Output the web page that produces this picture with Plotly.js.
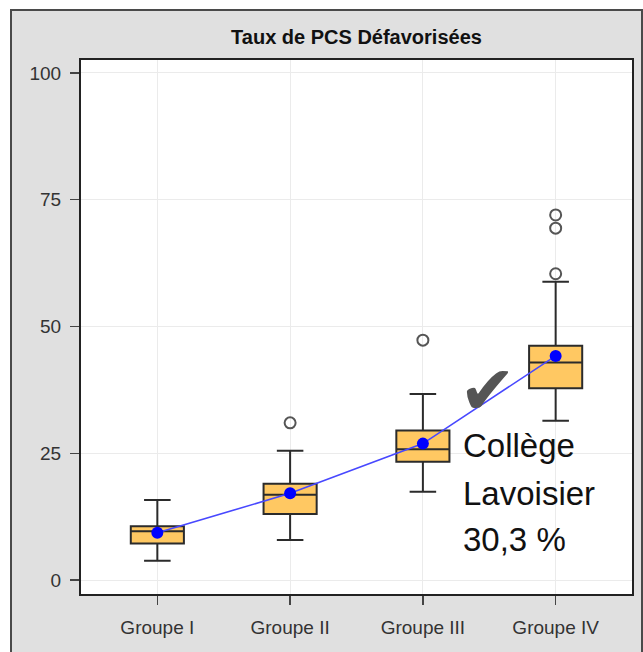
<!DOCTYPE html>
<html>
<head>
<meta charset="utf-8">
<script src="https://cdn.plot.ly/plotly-3.0.1.min.js"></script>
<style>
  html, body { margin: 0; padding: 0; background: #ffffff; overflow: hidden; width: 643px; height: 652px; }
  #frame { position: absolute; left: 10px; top: 9px; width: 629px; height: 660px;
           border: 2px solid #4a4a4a; background: #e0e0e0; }
  #chart { width: 629px; height: 660px; }
</style>
</head>
<body>
<div id="frame"><div id="chart"></div></div>
<script>
// ---- data ----
const categories = ["Groupe I", "Groupe II", "Groupe III", "Groupe IV"];
const q1Values      = [7.2, 13.0, 23.3, 37.8];
const medianValues  = [9.6, 16.8, 25.8, 42.9];
const q3Values      = [10.6, 19.0, 29.5, 46.2];
const lowerWhisker  = [3.8, 7.9, 17.4, 31.4];
const upperWhisker  = [15.8, 25.5, 36.7, 58.8];
const meanValues    = [9.3, 17.1, 26.9, 44.2];
const outlierCats   = ["Groupe II", "Groupe III", "Groupe IV", "Groupe IV", "Groupe IV"];
const outlierValues = [31.0, 47.3, 60.4, 69.4, 72.0];
const yTickValues   = [0, 25, 50, 75, 100];
const titleText     = "Taux de PCS Défavorisées";
const noteLines     = ["Collège", "Lavoisier", "30,3 %"];

const traces = [
  {
    type: "box",
    x: categories,
    q1: q1Values,
    median: medianValues,
    q3: q3Values,
    lowerfence: lowerWhisker,
    upperfence: upperWhisker,
    fillcolor: "#ffc862",
    line: { color: "#2b2b2b", width: 2 },
    whiskerwidth: 0.5,
    width: 0.4,
    boxpoints: false,
    hoverinfo: "skip",
    showlegend: false
  },
  {
    type: "scatter",
    mode: "markers",
    x: outlierCats,
    y: outlierValues,
    marker: { symbol: "circle-open", size: 11, color: "#555555", line: { width: 2, color: "#555555" } },
    showlegend: false
  },
  {
    type: "scatter",
    mode: "lines+markers",
    x: categories,
    y: meanValues,
    line: { color: "#4848ff", width: 1.6 },
    marker: { size: 12, color: "#0000ff" },
    showlegend: false
  }
];

const noteY = [26.6, 17.0, 7.9];
const annotations = noteLines.map((t, i) => ({
  xref: "x", yref: "y", x: 2.285, y: noteY[i],
  text: t, showarrow: false, xanchor: "left", yanchor: "middle",
  font: { family: "Liberation Sans, Arial, sans-serif", size: 33, color: "#111111" }
}));
annotations.push({
  xref: "x", yref: "y", x: 2.49, y: 37.4,
  text: "✔", showarrow: false, xanchor: "center", yanchor: "middle",
  font: { family: "DejaVu Sans", size: 68, color: "#555555" }
});

const layout = {
  width: 629, height: 660,
  paper_bgcolor: "#e0e0e0",
  plot_bgcolor: "#ffffff",
  margin: { l: 69, r: 9, t: 49, b: 77 },
  title: {
    text: titleText,
    x: 0.5, xref: "paper",
    y: 1 - 26 / 660, yanchor: "middle",
    font: { family: "Liberation Sans, Arial, sans-serif", size: 20, color: "#111111", weight: "bold" }
  },
  xaxis: {
    type: "category",
    categoryorder: "array",
    categoryarray: categories,
    range: [-0.575, 3.575],
    showgrid: true, gridcolor: "#ebebeb", gridwidth: 1,
    showline: true, mirror: true, linecolor: "#222222", linewidth: 2,
    ticks: "outside", ticklen: 9, tickwidth: 1.5, tickcolor: "#444444",
    ticklabelstandoff: 6,
    tickfont: { family: "Liberation Sans, Arial, sans-serif", size: 19, color: "#333333" },
    zeroline: false, fixedrange: true
  },
  yaxis: {
    range: [-2.76, 102.56],
    tickvals: yTickValues,
    ticktext: yTickValues.map(String),
    showgrid: true, gridcolor: "#ebebeb", gridwidth: 1,
    showline: true, mirror: true, linecolor: "#222222", linewidth: 2,
    ticks: "outside", ticklen: 9, tickwidth: 1.5, tickcolor: "#444444",
    ticklabelstandoff: 5,
    tickfont: { family: "Liberation Sans, Arial, sans-serif", size: 19, color: "#333333" },
    zeroline: false, fixedrange: true
  },
  annotations: annotations
};

Plotly.newPlot("chart", traces, layout, { displayModeBar: false, staticPlot: true });
</script>
</body>
</html>
